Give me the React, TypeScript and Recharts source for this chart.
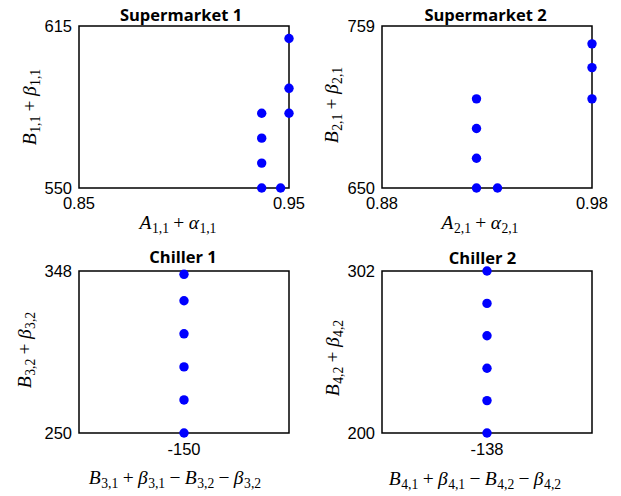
import React from 'react';
import { ScatterChart, Scatter, XAxis, YAxis, ReferenceArea } from 'recharts';

// Supermarket 1
const sm1X = [0.937, 0.937, 0.937, 0.937, 0.946, 0.95, 0.95, 0.95];
const sm1Y = [550, 560, 570, 580, 550, 580, 590, 610];
const sm1XTicks = [0.85, 0.95];
const sm1YTicks = [550, 615];

// Supermarket 2
const sm2X = [0.925, 0.925, 0.925, 0.925, 0.935, 0.98, 0.98, 0.98];
const sm2Y = [650, 670, 690, 710, 650, 710, 731, 747];
const sm2XTicks = [0.88, 0.98];
const sm2YTicks = [650, 759];

// Chiller 1
const ch1X = [-150, -150, -150, -150, -150, -150];
const ch1Y = [250, 270, 290, 310, 330, 346];
const ch1XTicks = [-150];
const ch1YTicks = [250, 348];

// Chiller 2
const ch2X = [-138, -138, -138, -138, -138, -138];
const ch2Y = [200, 220.4, 240.8, 261.2, 281.6, 302];
const ch2XTicks = [-138];
const ch2YTicks = [200, 302];

type Term = { base: string; sub?: string } | { op: string };

const sm1XLabel: Term[] = [{ base: 'A', sub: '1,1' }, { op: '+' }, { base: 'α', sub: '1,1' }];
const sm1YLabel: Term[] = [{ base: 'B', sub: '1,1' }, { op: '+' }, { base: 'β', sub: '1,1' }];
const sm2XLabel: Term[] = [{ base: 'A', sub: '2,1' }, { op: '+' }, { base: 'α', sub: '2,1' }];
const sm2YLabel: Term[] = [{ base: 'B', sub: '2,1' }, { op: '+' }, { base: 'β', sub: '2,1' }];
const ch1XLabel: Term[] = [
  { base: 'B', sub: '3,1' }, { op: '+' }, { base: 'β', sub: '3,1' }, { op: '−' },
  { base: 'B', sub: '3,2' }, { op: '−' }, { base: 'β', sub: '3,2' },
];
const ch1YLabel: Term[] = [{ base: 'B', sub: '3,2' }, { op: '+' }, { base: 'β', sub: '3,2' }];
const ch2XLabel: Term[] = [
  { base: 'B', sub: '4,1' }, { op: '+' }, { base: 'β', sub: '4,1' }, { op: '−' },
  { base: 'B', sub: '4,2' }, { op: '−' }, { base: 'β', sub: '4,2' },
];
const ch2YLabel: Term[] = [{ base: 'B', sub: '4,2' }, { op: '+' }, { base: 'β', sub: '4,2' }];

const MATH_FONT = "'Liberation Serif', 'Times New Roman', serif";
const TICK_FONT = "'Liberation Sans', Arial, sans-serif";
const TITLE_FONT = "'Open Sans', 'Noto Sans', sans-serif";
const DOT_COLOR = '#0000FF';
const MATH_SIZE = 19.5;
const TICK_SIZE = 16.5;
const Y_AXIS_W = 60;
const X_AXIS_H = 30;

function MathText({ x, y, terms, fs, rotate }: { x: number; y: number; terms: Term[]; fs: number; rotate?: boolean }) {
  const subFs = fs * 0.7;
  const drop = fs * 0.22;
  const gap = fs * 0.22;
  const spans: React.ReactNode[] = [];
  let lowered = false;
  let pendingDx = 0;
  terms.forEach((t, i) => {
    if ('op' in t) {
      spans.push(
        <tspan key={`o${i}`} dx={gap} dy={lowered ? -drop : 0}>
          {t.op}
        </tspan>
      );
      lowered = false;
      pendingDx = gap;
    } else {
      spans.push(
        <tspan key={`b${i}`} dx={pendingDx} dy={lowered ? -drop : 0} fontStyle="italic">
          {t.base}
        </tspan>
      );
      pendingDx = 0;
      lowered = false;
      if (t.sub) {
        spans.push(
          <tspan key={`s${i}`} dx={0.5} dy={drop} fontSize={subFs}>
            {t.sub}
          </tspan>
        );
        lowered = true;
      }
    }
  });
  return (
    <text
      x={x}
      y={y}
      textAnchor="middle"
      fontFamily={MATH_FONT}
      fontSize={fs}
      fill="#000"
      transform={rotate ? `rotate(-90 ${x} ${y})` : undefined}
    >
      {spans}
    </text>
  );
}

// Tick label drawn in the sans font used for the axis numbers
const renderTick = (anchor: 'middle' | 'end', vAnchor: 'top' | 'middle') => (p: any) => {
  const { x, y, payload } = p;
  const dy = vAnchor === 'top' ? TICK_SIZE * 0.72 : TICK_SIZE * 0.36;
  return (
    <text
      x={x}
      y={y}
      dy={dy}
      textAnchor={anchor}
      style={{ fontFamily: TICK_FONT, fontSize: `${TICK_SIZE}px` }}
      fill="#000"
    >
      {String(payload.value)}
    </text>
  );
};
const xTick = renderTick('middle', 'top');
const yTick = renderTick('end', 'middle');

type Layout = {
  left: number;
  top: number;
  width: number;
  height: number;
  // plot box edges, relative to the chart's own top-left corner
  box: { left: number; top: number; right: number; bottom: number };
  xTickMargin: number;
  title: { dx: number; dy: number };
  xLab: { dx: number; dy: number };
  yLab: { dx: number; dy: number };
};

type PanelProps = {
  title: string;
  xs: number[];
  ys: number[];
  xDomain: [number, number];
  yDomain: [number, number];
  xTicks: number[];
  yTicks: number[];
  xLabel: Term[];
  yLabel: Term[];
  layout: Layout;
};

const renderDot = (p: any) => <circle cx={p.cx} cy={p.cy} r={4.7} fill={DOT_COLOR} />;

function Panel({ title, xs, ys, xDomain, yDomain, xTicks, yTicks, xLabel, yLabel, layout }: PanelProps) {
  const data = xs.map((x, i) => ({ x, y: ys[i] }));
  const { box } = layout;
  const margin = {
    top: box.top,
    left: box.left - Y_AXIS_W,
    right: layout.width - box.right,
    bottom: layout.height - box.bottom - X_AXIS_H,
  };

  const frameText = (props: any) => {
    const vb = props.viewBox || {};
    const x = vb.x ?? 0;
    const y = vb.y ?? 0;
    const w = vb.width ?? 0;
    const h = vb.height ?? 0;
    const cx = x + w / 2;
    const cy = y + h / 2;
    return (
      <g>
        <text
          x={cx + layout.title.dx}
          y={y + layout.title.dy}
          textAnchor="middle"
          fontFamily={TITLE_FONT}
          fontWeight={700}
          fontSize={16.5}
          fill="#000"
        >
          {title}
        </text>
        <MathText x={cx + layout.xLab.dx} y={y + h + layout.xLab.dy} terms={xLabel} fs={MATH_SIZE} />
        <MathText x={x + layout.yLab.dx} y={cy + layout.yLab.dy} terms={yLabel} fs={MATH_SIZE} rotate />
      </g>
    );
  };

  return (
    <div style={{ position: 'absolute', left: layout.left, top: layout.top }}>
      <ScatterChart width={layout.width} height={layout.height} margin={margin}>
        <XAxis
          type="number"
          dataKey="x"
          domain={xDomain}
          ticks={xTicks}
          interval={0}
          height={X_AXIS_H}
          tickSize={0}
          tickMargin={layout.xTickMargin}
          axisLine={false}
          tickLine={false}
          tick={xTick}
        />
        <YAxis
          type="number"
          dataKey="y"
          domain={yDomain}
          ticks={yTicks}
          interval={0}
          width={Y_AXIS_W}
          tickSize={0}
          tickMargin={7}
          axisLine={false}
          tickLine={false}
          tick={yTick}
        />
        <ReferenceArea
          x1={xDomain[0]}
          x2={xDomain[1]}
          y1={yDomain[0]}
          y2={yDomain[1]}
          fill="none"
          fillOpacity={0}
          stroke="#000"
          strokeWidth={1.5}
          label={frameText}
        />
        <Scatter data={data} isAnimationActive={false} shape={renderDot} />
      </ScatterChart>
    </div>
  );
}

const layoutSm1: Layout = {
  left: 0, top: 0, width: 310, height: 240,
  box: { left: 79, top: 26, right: 289, bottom: 188 },
  xTickMargin: 9,
  title: { dx: -3, dy: -5.5 },
  xLab: { dx: -6, dy: 41 },
  yLab: { dx: -43, dy: 0 },
};
const layoutSm2: Layout = {
  left: 310, top: 0, width: 311, height: 240,
  box: { left: 72, top: 26, right: 282, bottom: 188 },
  xTickMargin: 9,
  title: { dx: -1.5, dy: -5.5 },
  xLab: { dx: -7, dy: 41 },
  yLab: { dx: -44, dy: -2 },
};
const layoutCh1: Layout = {
  left: 0, top: 240, width: 310, height: 256,
  box: { left: 79, top: 31, right: 289, bottom: 193 },
  xTickMargin: 10,
  title: { dx: -1, dy: -8.3 },
  xLab: { dx: -9, dy: 51 },
  yLab: { dx: -48, dy: -2 },
};
const layoutCh2: Layout = {
  left: 310, top: 240, width: 311, height: 256,
  box: { left: 72, top: 31, right: 282, bottom: 193 },
  xTickMargin: 10,
  title: { dx: -4.5, dy: -7 },
  xLab: { dx: -12, dy: 52 },
  yLab: { dx: -43, dy: 6 },
};

export default function App() {
  return (
    <div style={{ position: 'absolute', left: 0, top: 0, width: 621, height: 496, background: '#fff' }}>
      <Panel
        title="Supermarket 1"
        xs={sm1X}
        ys={sm1Y}
        xDomain={[sm1XTicks[0], sm1XTicks[1]]}
        yDomain={[sm1YTicks[0], sm1YTicks[1]]}
        xTicks={sm1XTicks}
        yTicks={sm1YTicks}
        xLabel={sm1XLabel}
        yLabel={sm1YLabel}
        layout={layoutSm1}
      />
      <Panel
        title="Supermarket 2"
        xs={sm2X}
        ys={sm2Y}
        xDomain={[sm2XTicks[0], sm2XTicks[1]]}
        yDomain={[sm2YTicks[0], sm2YTicks[1]]}
        xTicks={sm2XTicks}
        yTicks={sm2YTicks}
        xLabel={sm2XLabel}
        yLabel={sm2YLabel}
        layout={layoutSm2}
      />
      <Panel
        title="Chiller 1"
        xs={ch1X}
        ys={ch1Y}
        xDomain={[ch1XTicks[0] - 1, ch1XTicks[0] + 1]}
        yDomain={[ch1YTicks[0], ch1YTicks[1]]}
        xTicks={ch1XTicks}
        yTicks={ch1YTicks}
        xLabel={ch1XLabel}
        yLabel={ch1YLabel}
        layout={layoutCh1}
      />
      <Panel
        title="Chiller 2"
        xs={ch2X}
        ys={ch2Y}
        xDomain={[ch2XTicks[0] - 1, ch2XTicks[0] + 1]}
        yDomain={[ch2YTicks[0], ch2YTicks[1]]}
        xTicks={ch2XTicks}
        yTicks={ch2YTicks}
        xLabel={ch2XLabel}
        yLabel={ch2YLabel}
        layout={layoutCh2}
      />
    </div>
  );
}
